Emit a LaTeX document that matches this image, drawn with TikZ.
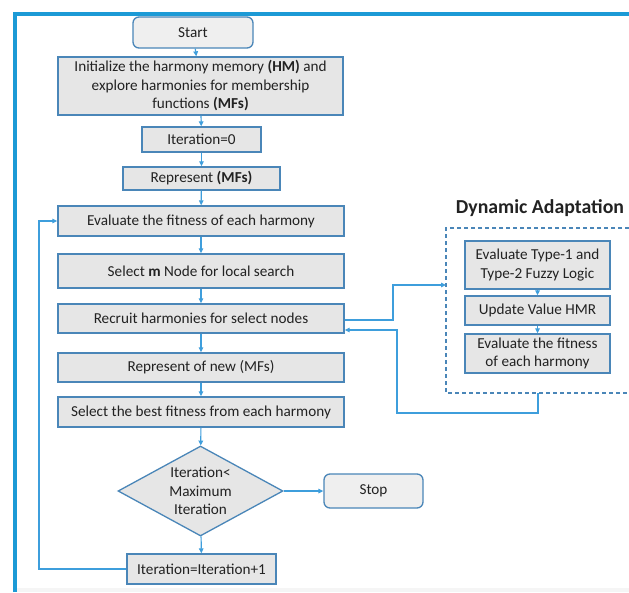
\documentclass[tikz,border=0pt]{standalone}
\usepackage{fontspec}
\setmainfont{Carlito}
\usetikzlibrary{shapes.geometric,arrows.meta}
\definecolor{framebl}{HTML}{1C9AD6}
\definecolor{boxedge}{HTML}{4A86B8}
\definecolor{boxfill}{HTML}{E6E6E6}
\definecolor{termfill}{HTML}{EFEFEF}
\definecolor{linkbl}{HTML}{3E9EDC}
\definecolor{txt}{HTML}{222222}
\tikzset{
  procbox/.style={draw=boxedge, line width=1.3pt, fill=boxfill, inner sep=0pt,
    align=center, text=txt, font=\fontsize{15.2}{18.5}\selectfont},
  termbox/.style={procbox, fill=termfill, rounded corners=6pt},
  decide/.style={procbox, diamond, aspect=1.83},
  link/.style={draw=linkbl, line width=1.2pt, -{Triangle[length=5pt,width=4.5pt]}},
}
\newcommand{\boxat}[6]{\node[#1, minimum width=#4pt, minimum height=#5pt] (#2) at (#3) {#6};}
\begin{document}
\begin{tikzpicture}[x=1pt,y=-1pt]
\useasboundingbox (0,0) rectangle (629,592);
\fill[white] (0,0) rectangle (629,592);
\fill[black!4] (17,588) rectangle (629,592);
% outer frame
\draw[framebl, line width=4pt] (15,592) -- (15,14) -- (629,14);

% main column
\boxat{termbox}{start}{193,32.5}{120}{31}{Start}
\boxat{procbox}{init}{200.5,86}{285}{58}{Initialize the harmony memory \textbf{(HM)} and\\explore harmonies for membership\\functions \textbf{(MFs)}}
\boxat{procbox}{itz}{201.5,139.5}{119}{25}{Iteration=0}
\boxat{procbox}{rep}{201.5,178.5}{157}{23}{Represent \textbf{(MFs)}}
\boxat{procbox}{evalf}{201,221}{286}{30}{Evaluate the fitness of each harmony}
\boxat{procbox}{selm}{201,271}{286}{34}{Select \textbf{m} Node for local search}
\boxat{procbox}{recr}{201,318.5}{286}{29}{Recruit harmonies for select nodes}
\boxat{procbox}{repnew}{201,367.5}{286}{29}{Represent of new (MFs)}
\boxat{procbox}{best}{201,412}{286}{30}{Select the best fitness from each harmony}
\node[decide, minimum width=165pt, minimum height=90pt] (cond) at (200.5,491) {Iteration<\\Maximum\\Iteration};
\boxat{termbox}{stop}{373.5,491}{99}{34}{Stop}
\boxat{procbox}{itinc}{201.5,569}{149}{30}{Iteration=Iteration+1}

% dynamic adaptation group
\node[font=\fontsize{19.8}{24}\selectfont\bfseries, text=txt] (dyntitle) at (540,208) {Dynamic Adaptation};
\draw[boxedge, line width=1.2pt, dash pattern=on 4pt off 3pt] (629,228) -- (446,228) -- (446,393) -- (629,393);
\coordinate (dain) at (446,285);
\coordinate (daout) at (538,393);
\boxat{procbox}{tfl}{537.5,265}{145}{48}{Evaluate Type-1 and\\Type-2 Fuzzy Logic}
\boxat{procbox}{hmr}{537.5,310.5}{145}{29}{Update Value HMR}
\boxat{procbox}{evtwo}{537.5,353.5}{145}{39}{Evaluate the fitness\\of each harmony}

% connectors
\draw[link] (start) -- (init);
\draw[link] (init) -- (itz);
\draw[link] (itz) -- (rep);
\draw[link] (rep) -- (evalf);
\draw[link] (evalf) -- (selm);
\draw[link] (selm) -- (recr);
\draw[link] (recr) -- (repnew);
\draw[link] (repnew) -- (best);
\draw[link] (best) -- (cond);
\draw[link] (cond) -- (stop);
\draw[link] (cond) -- (itinc);
\draw[link] (itinc.west) -- (39,569) -- (39,221) -- (evalf.west);
\draw[link] ([yshift=-1.5pt]recr.east) -- (393,320) -- (393,285) -- (dain);
\draw[link] (daout) -- (538,413) -- (397,413) -- (397,330) -- ([yshift=-11.5pt]recr.east);
\draw[link] (tfl) -- (hmr);
\draw[link] (hmr) -- (evtwo);
\end{tikzpicture}
\end{document}
